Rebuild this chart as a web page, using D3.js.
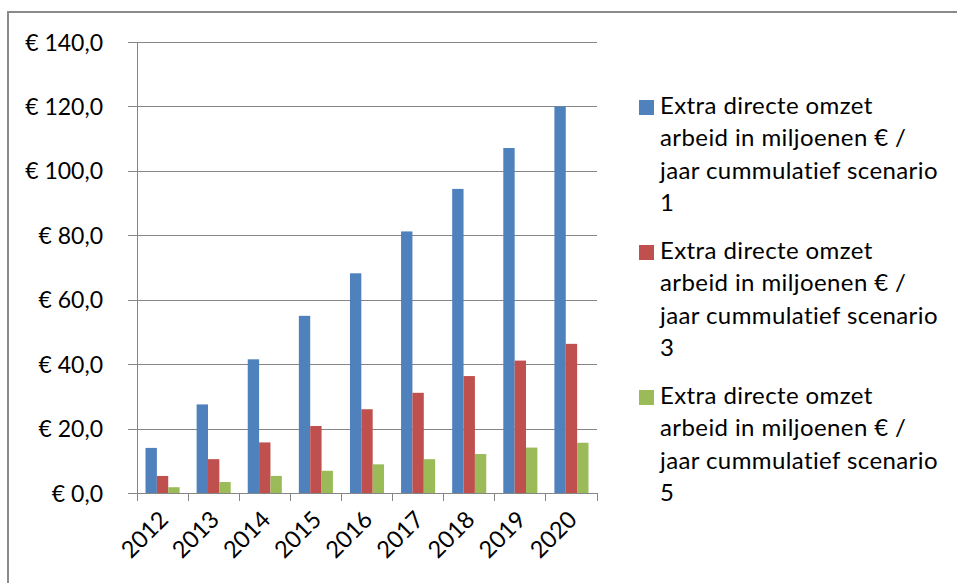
<!DOCTYPE html>
<html>
<head>
<meta charset="utf-8">
<script src="https://cdn.jsdelivr.net/npm/d3@7/dist/d3.min.js"></script>
<style>
  html, body { margin: 0; padding: 0; background: #fff; }
  svg { display: block; }
  text { font-family: Lato, "Open Sans", sans-serif; fill: #000; }
</style>
</head>
<body>
<svg id="chart" width="957" height="583"></svg>
<script>
// Years on the category axis
const years = ["2012", "2013", "2014", "2015", "2016", "2017", "2018", "2019", "2020"];

// Extra direct turnover (labour), million € per year, cumulative
const scenario1 = [14.0, 27.5, 41.5, 55.0, 68.2, 81.2, 94.4, 107.1, 120.0];
const scenario3 = [5.3, 10.5, 15.7, 20.8, 26.0, 31.1, 36.3, 41.1, 46.3];
const scenario5 = [1.8, 3.4, 5.3, 6.9, 8.9, 10.5, 12.1, 14.1, 15.6];

const seriesNames = [
  "Extra directe omzet arbeid in miljoenen € / jaar cummulatief scenario 1",
  "Extra directe omzet arbeid in miljoenen € / jaar cummulatief scenario 3",
  "Extra directe omzet arbeid in miljoenen € / jaar cummulatief scenario 5"
];
const seriesValues = [scenario1, scenario3, scenario5];
const seriesColors = ["#4F81BD", "#C0504D", "#9BBB59"];

const yTicks = [0, 20, 40, 60, 80, 100, 120, 140];

const svg = d3.select("#chart");
const gridColor = "#868686";

// Outer frame (left and top edges)
svg.append("path")
  .attr("d", "M8,583 L8,12 L957,12")
  .attr("fill", "none")
  .attr("stroke", "#8a8a8a")
  .attr("stroke-width", 2);

const plot = { left: 137, right: 597, top: 42, bottom: 493 };

const y = d3.scaleLinear().domain([0, 140]).range([plot.bottom, plot.top]);
const x = d3.scaleBand().domain(years).range([plot.left, plot.right]).padding(0);
const xs = d3.scaleBand().domain(d3.range(seriesValues.length))
  .range([0, x.bandwidth()]).paddingInner(0).paddingOuter(0.75);

// Horizontal gridlines with small ticks left of the value axis
const yAxis = d3.axisLeft(y)
  .tickValues(yTicks)
  .tickSize(-(plot.right - plot.left))
  .tickSizeOuter(0)
  .tickFormat(d => "€ " + d3.format(".1f")(d).replace(".", ","));

const gy = svg.append("g")
  .attr("transform", `translate(${plot.left},0)`)
  .call(yAxis);
gy.select(".domain").remove();
gy.selectAll(".tick line")
  .attr("x1", -9)
  .attr("stroke", gridColor)
  .attr("stroke-width", 1)
  .attr("shape-rendering", "crispEdges");
gy.selectAll(".tick text")
  .attr("x", -34)
  .attr("dy", "0.35em")
  .attr("font-size", 23)
  .attr("font-family", "Lato, 'Open Sans', sans-serif")
  .attr("fill", "#000");

// Value axis line
svg.append("line")
  .attr("x1", plot.left).attr("x2", plot.left)
  .attr("y1", plot.top).attr("y2", plot.bottom)
  .attr("stroke", gridColor)
  .attr("shape-rendering", "crispEdges");

// Bars
seriesValues.forEach((vals, si) => {
  svg.append("g")
    .selectAll("rect")
    .data(vals)
    .join("rect")
    .attr("x", (d, i) => x(years[i]) + xs(si))
    .attr("y", d => y(d))
    .attr("width", xs.bandwidth())
    .attr("height", d => y(0) - y(d))
    .attr("fill", seriesColors[si]);
});

// Category axis with tick marks between categories
const xAxisLine = svg.append("g");
xAxisLine.append("line")
  .attr("x1", plot.left - 9).attr("x2", plot.right)
  .attr("y1", plot.bottom).attr("y2", plot.bottom)
  .attr("stroke", gridColor)
  .attr("shape-rendering", "crispEdges");
const boundaries = years.map(d => x(d)).concat([x(years[years.length - 1]) + x.bandwidth()]);
xAxisLine.selectAll("line.tick")
  .data(boundaries)
  .join("line")
  .attr("class", "tick")
  .attr("x1", d => d).attr("x2", d => d)
  .attr("y1", plot.bottom).attr("y2", plot.bottom + 8)
  .attr("stroke", gridColor)
  .attr("shape-rendering", "crispEdges");

// Rotated year labels
svg.append("g")
  .selectAll("text")
  .data(years)
  .join("text")
  .attr("transform", d => `translate(${x(d) + x.bandwidth() / 2 + 7},${plot.bottom + 28}) rotate(-45)`)
  .attr("text-anchor", "end")
  .attr("font-size", 23.5)
  .text(d => d);

// Legend with wrapped labels
const legendLines = [
  ["Extra directe omzet", "arbeid in miljoenen € /", "jaar cummulatief scenario", "1"],
  ["Extra directe omzet", "arbeid in miljoenen € /", "jaar cummulatief scenario", "3"],
  ["Extra directe omzet", "arbeid in miljoenen € /", "jaar cummulatief scenario", "5"]
];
const legend = svg.append("g");
legendLines.forEach((lines, i) => {
  const top = 114 + i * 145;
  legend.append("rect")
    .attr("x", 639).attr("y", top - 14)
    .attr("width", 15).attr("height", 15)
    .attr("fill", seriesColors[i]);
  const t = legend.append("text")
    .attr("x", 660).attr("y", top)
    .attr("font-size", 24)
    .attr("letter-spacing", 0.4);
  lines.forEach((ln, j) => {
    t.append("tspan").attr("x", 660).attr("y", top + j * 32.3).text(ln);
  });
});
</script>
</body>
</html>
